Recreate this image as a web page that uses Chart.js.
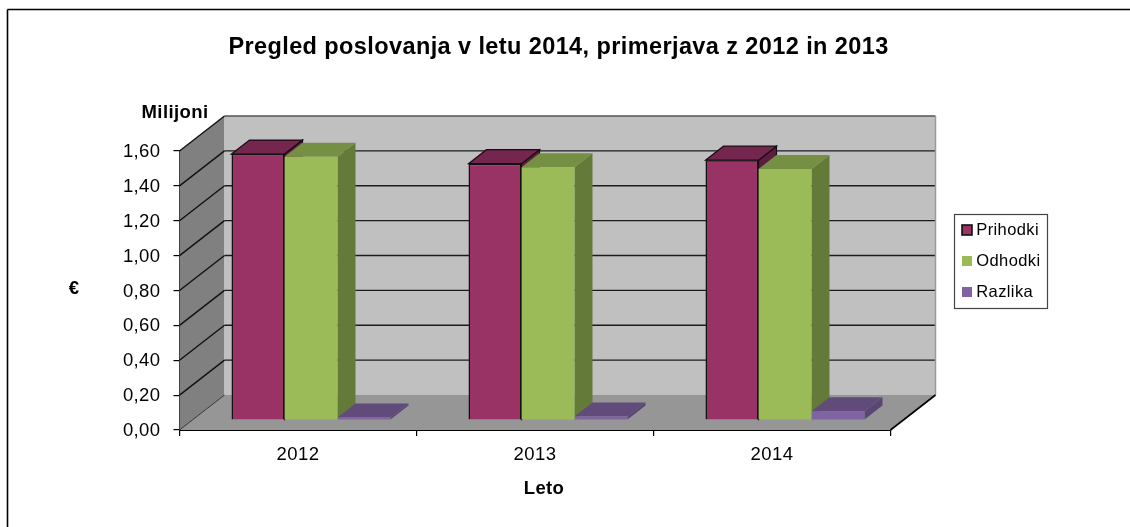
<!DOCTYPE html>
<html><head><meta charset="utf-8">
<script src="https://cdn.jsdelivr.net/npm/chart.js@4/dist/chart.umd.js"></script>
<style>html,body{margin:0;padding:0;background:#fff}#w{position:relative;width:1130px;height:527px}canvas{display:block}</style>
</head><body><div id="w"><canvas id="c" width="1130" height="527"></canvas></div>
<script>
const categories = ['2012','2013','2014'];
const prihodki = [1.525,1.47,1.49];
const odhodki = [1.51,1.45,1.44];
const razlika = [0.015,0.02,0.05];
const yTicks = ['0,00','0,20','0,40','0,60','0,80','1,00','1,20','1,40','1,60'];
const chartTitle = 'Pregled poslovanja v letu 2014, primerjava z 2012 in 2013';
const xTitle = 'Leto', yTitle = '€', yUnit = 'Milijoni';
const FONT = '"Liberation Sans", Arial, sans-serif';

const WALL = {dx:45, dy:-35};   // back wall offset from the front plane
const BARP = {dx:13, dy:-10};   // plane the bars stand on
const BARD = {dx:18, dy:-14};   // depth of a bar
const shades = [
  {top:'#75264E', side:'#5C1E3E', line:'#1a0a12'},
  {top:'#769043', side:'#637A39', line:null},
  {top:'#604B7B', side:'#5A4675', line:null}
];
function poly(ctx, pts, fill, stroke, lw){
  ctx.beginPath();
  pts.forEach((p,i)=> i?ctx.lineTo(p[0],p[1]):ctx.moveTo(p[0],p[1]));
  ctx.closePath();
  if(fill){ctx.fillStyle=fill;ctx.fill();}
  if(stroke){ctx.strokeStyle=stroke;ctx.lineWidth=lw||1;ctx.stroke();}
}
function line(ctx,x1,y1,x2,y2,c,w){
  ctx.beginPath();ctx.moveTo(x1,y1);ctx.lineTo(x2,y2);ctx.strokeStyle=c;ctx.lineWidth=w;ctx.stroke();
}
const scene = {
  id:'scene',
  afterLayout(chart){
    const lg = chart.legend;
    lg.left=952.5; lg.top=182; lg.right=1070; lg.bottom=340; lg.width=lg.right-lg.left; lg.height=lg.bottom-lg.top;
    lg.adjustHitBoxes && lg.adjustHitBoxes();
    const t = chart.titleBlock;
    t.left=0; t.right=1117; t.width=1117;
  },
  beforeDraw(chart){ chart.ctx.letterSpacing='0.4px'; },
  beforeDatasetsDraw(chart){
    const ctx=chart.ctx, a=chart.chartArea, y=chart.scales.y;
    const {dx,dy}=WALL;
    ctx.save();
    // side wall, back wall, floor
    poly(ctx,[[a.left,a.top],[a.left+dx,a.top+dy],[a.left+dx,a.bottom+dy],[a.left,a.bottom]],'#808080');
    poly(ctx,[[a.left+dx,a.top+dy],[a.right+dx,a.top+dy],[a.right+dx,a.bottom+dy],[a.left+dx,a.bottom+dy]],'#C0C0C0');
    poly(ctx,[[a.left+dx,a.bottom+dy],[a.right+dx,a.bottom+dy],[a.right,a.bottom],[a.left,a.bottom]],'#969696');
    // gridlines
    y.ticks.forEach((t,i)=>{
      const p=y.getPixelForValue(t.value);
      if(i>0){
        line(ctx,a.left+dx,p+dy,a.right+dx,p+dy,i===y.ticks.length-1?'#555':'#1c1c1c',1.4);
      }
      line(ctx,a.left,p,a.left+dx,p+dy,i===0?'#333':'#111',i===0?1:1.4);
    });
    line(ctx,a.right+dx,a.top+dy,a.right+dx,a.bottom+dy,'#9a9a9a',1.5);
    line(ctx,a.right,a.bottom,a.right+dx,a.bottom+dy,'#000',1.6);
    // depth faces of the bars
    ctx.translate(BARP.dx,BARP.dy);
    chart.data.labels.forEach((_,j)=>{
      chart.data.datasets.forEach((ds,i)=>{
        const b=chart.getDatasetMeta(i).data[j];
        const l=b.x-b.width/2, r=b.x+b.width/2, t=b.y, base=b.base;
        const s=shades[i], d=BARD;
        poly(ctx,[[r,t],[r+d.dx,t+d.dy],[r+d.dx,base+d.dy],[r,base]],s.side,s.line,1.2);
        poly(ctx,[[l,t],[l+d.dx,t+d.dy],[r+d.dx,t+d.dy],[r,t]],s.top,s.line,1.2);
      });
    });
    ctx.restore();
    ctx.save();
    ctx.translate(BARP.dx,BARP.dy);
  },
  afterDatasetsDraw(chart){ chart.ctx.restore(); },
  afterDraw(chart){
    const ctx=chart.ctx;
    ctx.save();
    // outer frame
    line(ctx,7.5,9.5,1130,9.5,'#000',1.6);
    line(ctx,7.5,9.5,7.5,527,'#000',1.6);
    // legend frame and markers
    ctx.strokeStyle='#444';ctx.lineWidth=1.2;
    ctx.strokeRect(954.5,214.5,93,94);
    chart.legend.legendHitBoxes.forEach((h,i)=>{
      const ds=chart.data.datasets[i], cy=h.top+h.height/2;
      ctx.fillStyle=ds.backgroundColor;
      ctx.fillRect(962,cy-5,10,10);
      if(ds.borderWidth){ctx.strokeStyle=ds.borderColor;ctx.lineWidth=1.6;ctx.strokeRect(962,cy-5,10,10);}
    });
    // axis captions
    ctx.fillStyle='#000';ctx.textBaseline='middle';ctx.textAlign='center';
    ctx.font='bold 18.5px '+FONT;
    ctx.fillText(yUnit,175,113);
    ctx.fillText(yTitle,74,289);
    ctx.fillText(xTitle,544,489);
    ctx.restore();
  }
};
new Chart(document.getElementById('c'),{
  type:'bar',
  data:{labels:categories,datasets:[
    {label:'Prihodki',data:prihodki,backgroundColor:'#993366',borderColor:'#111',borderWidth:1.5},
    {label:'Odhodki',data:odhodki,backgroundColor:'#9BBB59',borderWidth:0},
    {label:'Razlika',data:razlika,backgroundColor:'#8064A2',borderWidth:0}
  ]},
  plugins:[scene],
  options:{
    responsive:false,animation:false,
    layout:{padding:{right:239.5}},
    categoryPercentage:0.671,barPercentage:1,
    plugins:{
      tooltip:{enabled:false},
      title:{display:true,text:chartTitle,color:'#000',font:{family:FONT,size:23.5,weight:'bold',lineHeight:1.2},padding:{top:33.5,bottom:89.3}},
      legend:{position:'chartArea',labels:{color:'#000',font:{family:FONT,size:16.5},boxWidth:1,boxHeight:10,padding:14.5,
        generateLabels:(chart)=>chart.data.datasets.map((d,i)=>({text:d.label,fillStyle:'rgba(0,0,0,0)',strokeStyle:'rgba(0,0,0,0)',lineWidth:0,datasetIndex:i,fontColor:'#000'}))}}
    },
    scales:{
      x:{
        grid:{display:true,drawOnChartArea:false,drawTicks:true,tickLength:6,color:'#000',lineWidth:1.2,offset:true},
        border:{color:'#000',width:2},
        ticks:{color:'#000',font:{family:FONT,size:18.5},padding:8,maxRotation:0},
        afterFit(s){s.height=97;}
      },
      y:{
        min:0,max:1.6,
        grid:{display:true,drawOnChartArea:false,drawTicks:true,tickLength:6,color:'#000',lineWidth:1.2},
        border:{color:'#000',width:1.6},
        ticks:{stepSize:0.2,color:'#000',font:{family:FONT,size:18.5},padding:13,labelOffset:1,
          callback:(v,i)=>yTicks[i]},
        afterFit(s){s.width=179.5;}
      }
    }
  }
});
</script></body></html>
